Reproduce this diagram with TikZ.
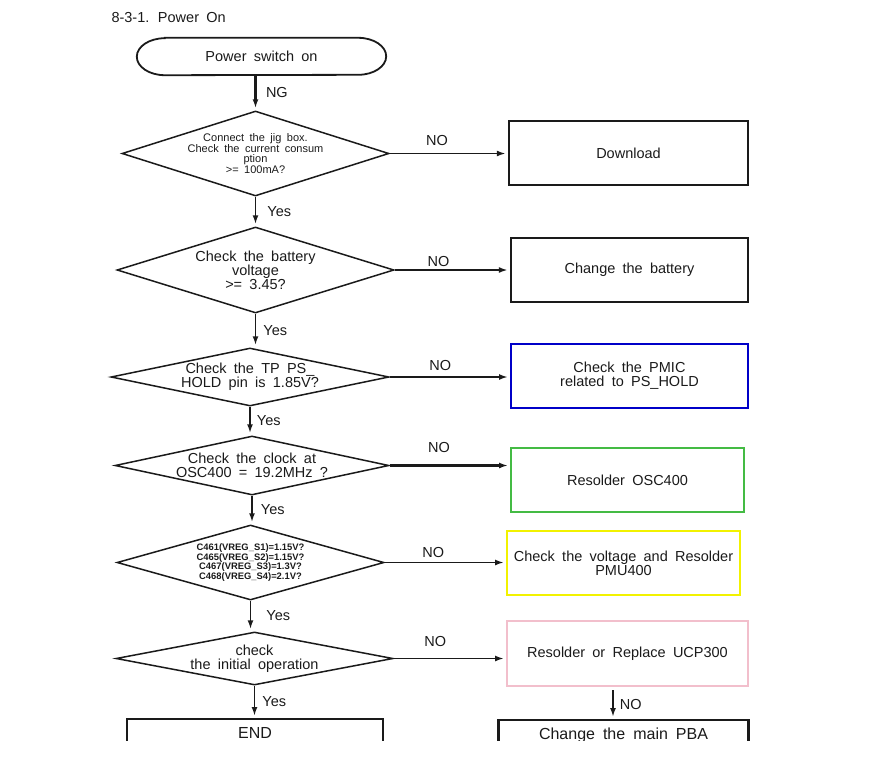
\documentclass[tikz,border=0pt]{standalone}
\usepackage{fontspec}
\setmainfont{Liberation Sans}[WordSpace=1.8]
\usepackage{tikz}
\usetikzlibrary{arrows.meta,shapes.geometric}
\definecolor{ink}{HTML}{1a1a1a}
\definecolor{pmicblue}{HTML}{0000C8}
\definecolor{oscgreen}{HTML}{44BB44}
\definecolor{pmuyellow}{HTML}{F2F200}
\definecolor{ucppink}{HTML}{F2BFCC}

\begin{document}
\begin{tikzpicture}[
  x=1pt, y=-1pt,
  every node/.style={font=\fontsize{14.5}{14}\selectfont, text=ink},
  decision/.style={draw=ink, diamond, line width=1.5pt, inner sep=0pt},
  action/.style={draw=ink, line width=2.4pt, minimum height=64pt,
                 align=center, inner sep=0pt},
  colorbox/.style={action, line width=2pt},
  cutbox/.style={draw=ink, line width=2.4pt, anchor=north, inner ysep=8pt,
                 text depth=40pt, font=\fontsize{16}{16}\selectfont},
  arr/.style={-{Latex[length=9pt,width=6pt]}, draw=ink, line width=1.8pt,
              shorten >=2pt},
  tag/.style={inner sep=0pt}
]
  \useasboundingbox (0,0) rectangle (884,764);

  \node[anchor=west] (title) at (108,18) {8-3-1. Power On};

  % Start
  \node[minimum width=249pt, minimum height=37pt, inner sep=0pt] (start)
    at (261.5,56.5) {Power switch on};
  \draw[ink, line width=1.8pt]
    ([xshift=28pt]start.north west) -- ([xshift=-28pt]start.north east)
    arc[start angle=90, end angle=-90, x radius=28pt, y radius=18.5pt]
    -- ([xshift=28pt]start.south west)
    arc[start angle=270, end angle=90, x radius=28pt, y radius=18.5pt] -- cycle;

  % Decisions
  \node[decision, minimum width=267pt, minimum height=85pt,
    label={[align=center, font=\fontsize{11}{10.5}\selectfont]center:{Connect the jig box.\\Check the current consum\\ption\\>= 100mA?}}]
    (jig) at (255.5,153.5) {};
  \node[decision, minimum width=277pt, minimum height=86pt,
    label={[align=center]center:{Check the battery\\voltage\\>= 3.45?}}]
    (volt) at (255.5,270) {};
  \node[decision, minimum width=278pt, minimum height=58pt,
    label={[align=center]center:{Check the TP PS\_\\HOLD pin is 1.85V?}}]
    (hold) at (250,377) {};
  \node[decision, minimum width=274pt, minimum height=59pt,
    label={[align=center]center:{Check the clock at\\OSC400 = 19.2MHz ?}}]
    (clock) at (252,465.5) {};
  \node[decision, minimum width=267pt, minimum height=75pt,
    label={[align=center, font=\bfseries\fontsize{9.4}{8.7}\selectfont]center:{C461(VREG\_S1)=1.15V?\\C465(VREG\_S2)=1.15V?\\C467(VREG\_S3)=1.3V?\\C468(VREG\_S4)=2.1V?}}]
    (vreg) at (250.5,562.5) {};
  \node[decision, minimum width=277pt, minimum height=53pt,
    label={[align=center]center:{check\\the initial operation}}]
    (init) at (254.5,658.5) {};

  % Actions
  \node[action, minimum width=239pt] (download) at (628.5,153) {Download};
  \node[action, minimum width=237pt] (battery) at (629.5,270) {Change the battery};
  \node[colorbox, draw=pmicblue, minimum width=237pt] (pmic) at (629.5,376)
    {Check the PMIC\\related to PS\_HOLD};
  \node[colorbox, draw=oscgreen, minimum width=233pt] (osc) at (627.5,480)
    {Resolder OSC400};
  \node[colorbox, draw=pmuyellow, minimum width=233pt] (pmu) at (623.5,563)
    {Check the voltage and Resolder\\PMU400};
  \node[colorbox, draw=ucppink, minimum width=241pt, minimum height=65pt] (ucp)
    at (627.5,653.5) {Resolder or Replace UCP300};

  % Bottom boxes (cut off by the page)
  \begin{scope}
    \clip (0,0) rectangle (884,740);
    \node[cutbox, minimum width=256pt] (finish) at (255,718) {END};
    \node[cutbox, minimum width=250pt] (pba) at (623.5,719) {Change the main PBA};
  \end{scope}

  % Main flow
  \draw[arr, line width=3pt] (start.south -| jig.north) -- node[tag, right=9pt] {NG} (jig.north);
  \draw[arr] (jig.south) -- node[tag, right=11pt] {Yes} (jig.south |- volt.north);
  \draw[arr] (volt.south) -- node[tag, right=7pt] {Yes} (volt.south |- hold.north);
  \draw[arr] (hold.south) -- node[tag, right=6pt] {Yes} (hold.south |- clock.north);
  \draw[arr] (clock.south) -- node[tag, right=8pt] {Yes} (clock.south |- vreg.north);
  \draw[arr] (vreg.south) -- node[tag, right=15pt] {Yes} (vreg.south |- init.north);
  \draw[arr] (init.south) -- node[tag, right=7pt] {Yes} (init.south |- finish.north);

  % NO branches
  \draw[arr] (jig.east) -- node[tag, above=7pt, pos=.4] {NO} (jig.east -| download.west);
  \draw[arr] (volt.east) -- node[tag, above=2pt, pos=.38] {NO} (volt.east -| battery.west);
  \draw[arr] (hold.east) -- node[tag, above=5pt, pos=.42] {NO} (hold.east -| pmic.west);
  \draw[arr, line width=3pt] (clock.east) -- node[tag, above=11pt, pos=.41] {NO} (clock.east -| osc.west);
  \draw[arr] (vreg.east) -- node[tag, above=4pt, pos=.4] {NO} (vreg.east -| pmu.west);
  \draw[arr] (init.east) -- node[tag, above=11pt, pos=.37] {NO} (init.east -| ucp.west);
  \coordinate (ucpout) at ([xshift=-14.5pt, yshift=-3pt]ucp.south);
  \draw[arr] (ucpout) -- node[tag, right=6pt] {NO} (ucpout |- pba.north);
\end{tikzpicture}
\end{document}
